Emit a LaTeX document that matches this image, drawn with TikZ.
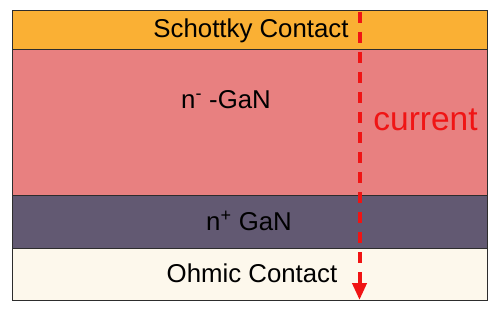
\documentclass[tikz,border=0pt]{standalone}
\usepackage{fontspec}
\setmainfont{Liberation Sans}
\usetikzlibrary{arrows.meta}
\definecolor{schottky}{RGB}{250,176,52}
\definecolor{ngan}{RGB}{232,128,128}
\definecolor{npgan}{RGB}{98,89,114}
\definecolor{ohmic}{RGB}{253,248,236}
\definecolor{curred}{RGB}{240,20,20}
\definecolor{edge}{RGB}{45,45,45}
\begin{document}
\begin{tikzpicture}[x=1pt,y=1pt,
  layer/.style={draw=edge,line width=1pt,minimum width=475pt,inner sep=0pt,outer sep=0pt,anchor=north west},
  lbl/.style={font=\fontsize{25.8}{30}\selectfont,text=black,inner sep=0pt}]
\useasboundingbox (0,0) rectangle (500,314);
\node[layer,fill=schottky,minimum height=39pt] (sch) at (12.5,303) {};
\node[layer,fill=ngan,minimum height=145pt] (nm) at (12.5,264) {};
\node[layer,fill=npgan,minimum height=53pt] (np) at (12.5,119) {};
\node[layer,fill=ohmic,minimum height=52pt] (oh) at (12.5,66) {};
\node[lbl] (tsch) at (251,283.5) {Schottky Contact};
\node[lbl] (tnm) at (226,214) {n\textsuperscript{-} -GaN};
\node[lbl] (tnp) at (249,93) {n\textsuperscript{+} GaN};
\node[lbl] (toh) at (252,41) {Ohmic Contact};
\node[font=\fontsize{33.5}{38}\selectfont,text=curred,inner sep=0pt] (cur) at (425.5,194) {current};
\coordinate (ctop) at (359.5,302);
\coordinate (cbot) at (359.5,14);
\draw[curred,line width=4pt,dash pattern=on 11pt off 9pt,-{Triangle[width=14pt,length=17pt]}] (ctop) -- (cbot);
\end{tikzpicture}
\end{document}
